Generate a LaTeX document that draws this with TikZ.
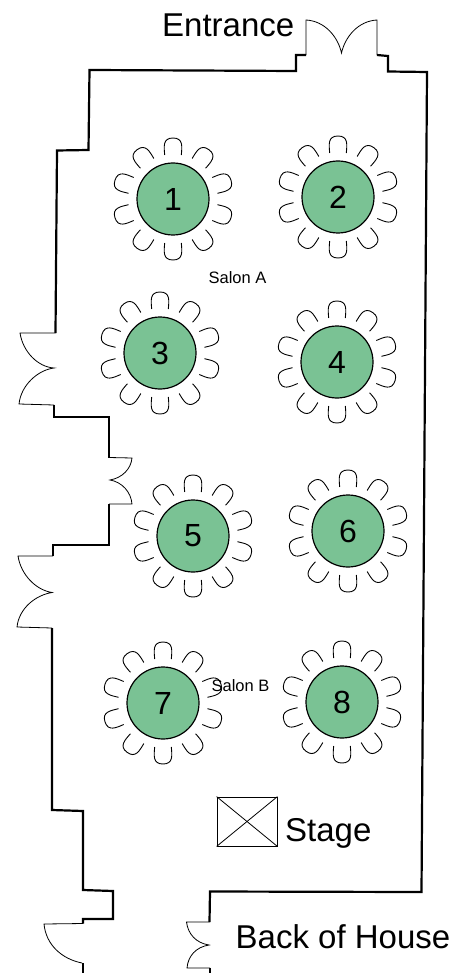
\documentclass[tikz,border=0pt]{standalone}
\usepackage{fontspec}
\setmainfont{Liberation Sans}
\usetikzlibrary{positioning}
\definecolor{tablegreen}{RGB}{122,194,148}

\begin{document}
\begin{tikzpicture}[x=1pt,y=-1pt,line join=miter,
  wall/.style={line width=2.2pt},
  door/.style={line width=0.8pt},
  chair/.style={line width=0.9pt},
  table/.style={circle,draw,line width=1.2pt,fill=tablegreen,minimum size=72pt,inner sep=0pt,
    font=\fontsize{32}{32}\selectfont},
  big label/.style={inner sep=0pt,anchor=base west,font=\fontsize{33}{33}\selectfont},
  small label/.style={inner sep=0pt,font=\fontsize{16.5}{16.5}\selectfont}]

  \useasboundingbox (0,0) rectangle (466,973);

  % tables and their chairs
  \foreach \n/\x/\y in {1/173/199,2/338/197,3/160/353,4/337/362,5/193/536,6/348/531,7/163/703,8/342/702} {
    \node[table] (table\n) at (\x,\y) {\n};
    \foreach \a in {18,54,90,126,162,198,234,270,306,342}
      \draw[chair,shift={(\x,\y)},rotate=\a] (44,-8.3) .. controls (52,-9) and (61,-10.5) .. (61,0)
        .. controls (61,10.5) and (52,9) .. (44,8.3);
  }

  % outer walls
  \draw[wall] (306,55) -- (296,55) -- (296,71) -- (89.5,70) -- (88.5,150) -- (57,150.5) -- (55.5,333);
  \draw[wall] (377,55) -- (388,56) -- (388,71.5) -- (427,72) -- (421.5,892) -- (210,891.5) -- (209.5,922);
  \draw[wall] (54,405) -- (54,417) -- (109,417) -- (109,457.5);
  \draw[wall] (109,504) -- (109,545) -- (53,545) -- (53,556);
  \draw[wall] (52,628) -- (52,810) -- (83,811) -- (83,890) -- (113,891) -- (113,919) -- (83,919) -- (83,923.5);
  \draw[wall] (83,963) -- (83,973);
  \draw[wall] (210,968) -- (210,973);

  % doors
  \draw[door] (306,55) -- (306,20) .. controls (325,21) and (338,37) .. (341.5,53)
    .. controls (345,37) and (358,21) .. (377,20) -- (377,55);
  \draw[door] (55.5,333) -- (20,333) .. controls (23,352) and (38,367) .. (54,368)
    .. controls (38,370) and (21,385) .. (19,404) -- (54,405);
  \draw[door] (109,457.5) -- (132,458) .. controls (131,469) and (122,478) .. (110,480)
    .. controls (122,482) and (131,492) .. (132,504) -- (109,504);
  \draw[door] (53,556) -- (18,556) .. controls (21,575) and (36,590) .. (52,592.5)
    .. controls (36,595) and (19,608) .. (17,627) -- (52,628);
  \draw[door] (83,923.5) -- (44,924) .. controls (46,945) and (62,959) .. (82,963);
  \draw[door] (209.5,922) -- (186.5,922) .. controls (188,934) and (196,943) .. (209,945)
    .. controls (196,947) and (188,956) .. (187,968) -- (210,968);

  % stage
  \node[draw,door,minimum width=60pt,minimum height=49pt,inner sep=0pt] (stage) at (247,821.5) {};
  \draw[door] (stage.north west) -- (stage.south east);
  \draw[door] (stage.north east) -- (stage.south west);

  % labels
  \node[big label] (entrance) at (162,36.5) {Entrance};
  \node[big label] (stagelabel) at (285,841) {Stage};
  \node[big label] (backlabel) at (235.5,948) {Back of House};
  \node[small label] (salona) at (237.5,278) {Salon A};
  \node[small label] (salonb) at (240.5,686) {Salon B};
\end{tikzpicture}
\end{document}
